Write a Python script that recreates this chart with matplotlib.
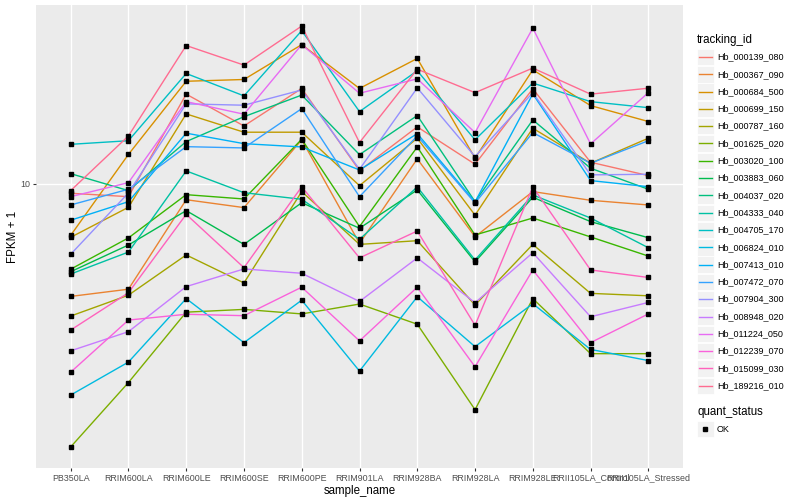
import numpy as np
import matplotlib
matplotlib.use("Agg")
import matplotlib.pyplot as plt
from matplotlib.patches import Rectangle
from matplotlib.lines import Line2D

plt.rcParams['font.family'] = ['Liberation Sans', 'DejaVu Sans']

samples = ["PB350LA", "RRIM600LA", "RRIM600LE", "RRIM600SE", "RRIM600PE",
           "RRIM901LA", "RRIM928BA", "RRIM928LA", "RRIM928LE",
           "RRII105LA_Control", "RRII105LA_Stressed"]

# FPKM + 1
hb_000139_080 = [9.31, 9.07, 19.91, 15.60, 20.80, 11.07, 15.49, 11.63, 20.75, 11.81, 10.66]
hb_000367_090 = [4.22, 4.46, 8.86, 8.34, 14.03, 6.34, 12.12, 6.67, 9.43, 8.82, 8.51]
hb_000684_500 = [6.74, 12.54, 21.98, 22.28, 29.11, 20.80, 26.18, 12.18, 23.99, 18.24, 16.14]
hb_000699_150 = [6.64, 8.36, 17.11, 14.87, 14.87, 9.87, 14.20, 7.87, 15.33, 11.72, 14.20]
hb_000787_160 = [3.63, 4.26, 5.80, 4.68, 9.43, 6.29, 6.47, 3.95, 6.29, 4.32, 4.24]
hb_001625_020 = [1.33, 2.18, 3.74, 3.82, 3.69, 3.98, 3.41, 1.77, 4.15, 2.72, 2.72]
hb_003020_100 = [5.20, 6.61, 9.21, 8.91, 14.09, 7.21, 13.28, 6.76, 7.70, 6.66, 5.75]
hb_003883_060 = [5.10, 6.26, 8.15, 6.29, 8.66, 7.12, 9.55, 5.50, 9.03, 7.49, 6.62]
hb_004037_020 = [10.82, 9.50, 13.84, 16.75, 19.77, 12.52, 16.90, 8.73, 16.34, 11.28, 9.60]
hb_004333_040 = [5.01, 5.93, 11.05, 9.35, 8.89, 6.54, 9.77, 5.58, 9.19, 7.70, 6.13]
hb_004705_170 = [13.55, 13.93, 23.33, 19.65, 32.40, 17.42, 23.82, 14.03, 21.68, 18.80, 17.95]
hb_006824_010 = [1.98, 2.55, 4.15, 2.96, 4.10, 2.38, 4.21, 2.87, 3.99, 2.81, 2.58]
hb_007413_010 = [7.57, 8.73, 14.76, 13.62, 13.28, 11.13, 14.71, 8.71, 19.95, 10.26, 9.79]
hb_007472_070 = [8.51, 9.60, 13.31, 13.18, 17.82, 9.07, 14.45, 8.64, 14.83, 11.72, 13.93]
hb_007904_300 = [5.83, 9.33, 18.48, 18.29, 20.56, 11.19, 20.89, 12.33, 20.14, 10.72, 10.77]
hb_008948_020 = [2.78, 3.22, 4.55, 5.21, 5.04, 4.06, 5.67, 4.02, 5.90, 3.61, 4.03]
hb_011224_050 = [9.07, 10.10, 18.80, 17.07, 29.11, 20.05, 22.39, 14.83, 33.04, 13.59, 20.14]
hb_012239_070 = [2.36, 3.52, 3.68, 3.64, 4.53, 3.00, 4.53, 2.46, 5.17, 2.96, 3.69]
hb_015099_030 = [3.26, 4.34, 7.92, 5.26, 9.79, 5.67, 6.97, 3.38, 9.77, 5.17, 4.88]
hb_189216_010 = [9.50, 14.45, 28.91, 24.88, 33.57, 13.74, 24.11, 20.14, 24.32, 19.91, 20.84]

tracking_ids = ["Hb_000139_080", "Hb_000367_090", "Hb_000684_500", "Hb_000699_150",
                "Hb_000787_160", "Hb_001625_020", "Hb_003020_100", "Hb_003883_060",
                "Hb_004037_020", "Hb_004333_040", "Hb_004705_170", "Hb_006824_010",
                "Hb_007413_010", "Hb_007472_070", "Hb_007904_300", "Hb_008948_020",
                "Hb_011224_050", "Hb_012239_070", "Hb_015099_030", "Hb_189216_010"]
series = [hb_000139_080, hb_000367_090, hb_000684_500, hb_000699_150, hb_000787_160,
          hb_001625_020, hb_003020_100, hb_003883_060, hb_004037_020, hb_004333_040,
          hb_004705_170, hb_006824_010, hb_007413_010, hb_007472_070, hb_007904_300,
          hb_008948_020, hb_011224_050, hb_012239_070, hb_015099_030, hb_189216_010]

# ggplot default hue palette for 20 groups
colors = ["#F8766D", "#EA8331", "#D89000", "#C09B00", "#A3A500", "#7CAE00", "#39B600",
          "#00BB4E", "#00BF7D", "#00C1A3", "#00BFC4", "#00BAE0", "#00B0F6", "#35A2FF",
          "#9590FF", "#C77CFF", "#E76BF3", "#FA62DB", "#FF62BC", "#FF6C91"]

W, H = 800, 500
fig = plt.figure(figsize=(8, 5), dpi=100)
ax = fig.add_axes([36 / W, 32 / H, (683 - 36) / W, (468 - 5) / H])
ax.set_facecolor("#EBEBEB")

x = np.arange(len(samples))
for vals, c in zip(series, colors):
    ax.plot(x, vals, color=c, lw=1.0, zorder=2)
for vals in series:
    ax.plot(x, vals, ls="none", marker="s", ms=2.7, color="black", zorder=3)

ax.set_yscale("log")
allv = np.log10(np.concatenate(series))
lo, hi = allv.min(), allv.max()
pad = 0.05 * (hi - lo)
ax.set_ylim(10 ** (lo - pad), 10 ** (hi + pad))
ax.set_xlim(-0.6, len(samples) - 0.4)

ax.set_yticks([10])
ax.set_yticklabels(["10"])
ax.yaxis.set_minor_locator(matplotlib.ticker.NullLocator())
ax.set_xticks(x)
ax.set_xticklabels(samples)
ax.tick_params(axis="both", colors="#333333", labelcolor="#4D4D4D", labelsize=6.4,
               length=2.5, width=0.8, pad=1.5)
ax.grid(True, color="white", lw=1.0, zorder=0)
ax.set_axisbelow(True)
for s in ax.spines.values():
    s.set_visible(False)

ax.set_xlabel("sample_name", fontsize=8.3, labelpad=2)
ax.set_ylabel("FPKM + 1", fontsize=8.3, labelpad=1)

# legend drawn by hand, ggplot style
fig.text(697 / W, 1 - 40 / H, "tracking_id", fontsize=8.3, va="center", ha="left")
y0, step = 57.0, 17.3
for i, (name, c) in enumerate(zip(tracking_ids, colors)):
    yc = y0 + i * step
    fig.patches.append(Rectangle((697 / W, 1 - (yc + 8.2) / H), 16.5 / W, 16.4 / H,
                                 transform=fig.transFigure, facecolor="#F2F2F2",
                                 edgecolor="white", lw=0.6))
    fig.lines.append(Line2D([698.5 / W, 712 / W], [1 - yc / H, 1 - yc / H],
                            transform=fig.transFigure, color=c, lw=1.0))
    fig.text(717 / W, 1 - yc / H, name, fontsize=6.5, va="center", ha="left")

fig.text(697 / W, 1 - 412 / H, "quant_status", fontsize=8.3, va="center", ha="left")
fig.patches.append(Rectangle((697 / W, 1 - (429 + 8.2) / H), 16.5 / W, 16.4 / H,
                             transform=fig.transFigure, facecolor="#F2F2F2",
                             edgecolor="white", lw=0.6))
fig.lines.append(Line2D([705 / W], [1 - 429 / H], transform=fig.transFigure,
                        ls="none", marker="s", ms=2.7, color="black"))
fig.text(717 / W, 1 - 429 / H, "OK", fontsize=6.5, va="center", ha="left")

fig.savefig("out.png", dpi=100)
